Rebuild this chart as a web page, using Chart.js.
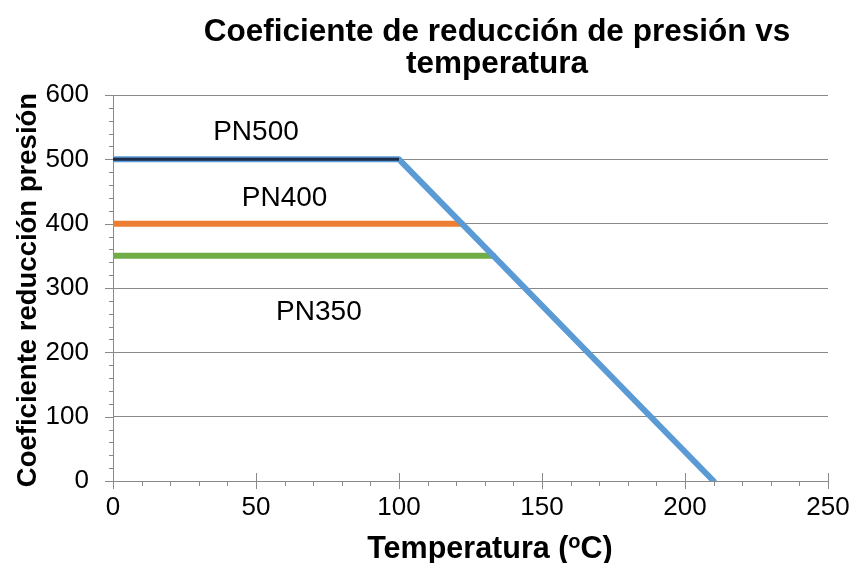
<!DOCTYPE html>
<html><head><meta charset="utf-8">
<script src="https://cdn.jsdelivr.net/npm/chart.js@4/dist/chart.umd.min.js"></script>
<style>html,body{margin:0;padding:0;background:#fff}#wrap{width:852px;height:563px}</style>
</head><body><div id="wrap"><canvas id="c" width="852" height="563"></canvas></div>
<script>
// ---- data ----
const titleLines = ['Coeficiente de reducción de presión vs', 'temperatura'];
const xAxisTitleParts = ['Temperatura (', 'o', 'C)'];
const yAxisTitle = 'Coeficiente reducción presión';
const seriesNames = ['PN500', 'PN400', 'PN350'];
const pn500Temp = [0, 100, 210];
const pn500Coef = [500, 500, 0];
const pn400Temp = [0, 122];
const pn400Coef = [400, 400];
const pn350Temp = [0, 133];
const pn350Coef = [350, 350];
const xTickValues = [0, 50, 100, 150, 200, 250];
const yTickValues = [0, 100, 200, 300, 400, 500, 600];
const xMinorStep = 10;
const yMinorStep = 20;
const labelTemp = [50, 60, 72];
const labelCoef = [542, 440, 263];

const FONT = '"Liberation Sans", Arial, sans-serif';
const GRAY = '#898989';

function pts(xs, ys) { return xs.map((x, i) => ({ x: x, y: ys[i] })); }

const decor = {
  id: 'decor',
  beforeDatasetsDraw(chart) {
    const ctx = chart.ctx, xs = chart.scales.x, ys = chart.scales.y;
    const ax = xs.getPixelForValue(0), ay = ys.getPixelForValue(0);
    ctx.save();
    ctx.strokeStyle = GRAY; ctx.lineWidth = 1;
    ctx.beginPath();
    for (let v = 0; v <= 600; v += yMinorStep) {
      const y = Math.round(ys.getPixelForValue(v)) + 0.5;
      const len = yTickValues.includes(v) ? 8 : 4;
      ctx.moveTo(ax - len, y); ctx.lineTo(ax, y);
    }
    for (let v = 0; v <= 250; v += xMinorStep) {
      const x = Math.round(xs.getPixelForValue(v)) + 0.5;
      if (xTickValues.includes(v)) { ctx.moveTo(x, ay - 8); ctx.lineTo(x, ay + 8); }
      else { ctx.moveTo(x, ay); ctx.lineTo(x, ay + 5); }
    }
    ctx.stroke();
    ctx.restore();
  },
  afterDraw(chart) {
    const ctx = chart.ctx, xs = chart.scales.x, ys = chart.scales.y;
    ctx.save();
    ctx.fillStyle = '#000';
    ctx.textAlign = 'center';
    ctx.textBaseline = 'alphabetic';
    ctx.font = 'bold 31.5px ' + FONT;
    ctx.fillText(titleLines[0], 497, 41);
    ctx.fillText(titleLines[1], 497, 73);
    // series labels
    ctx.font = '28px ' + FONT;
    ctx.textBaseline = 'middle';
    seriesNames.forEach((n, i) => {
      ctx.fillText(n, xs.getPixelForValue(labelTemp[i]), ys.getPixelForValue(labelCoef[i]));
    });
    // x axis title with superscript
    ctx.textBaseline = 'alphabetic';
    ctx.textAlign = 'left';
    const fMain = 'bold 30.5px ' + FONT, fSup = 'bold 20px ' + FONT;
    ctx.font = fMain; const w1 = ctx.measureText(xAxisTitleParts[0]).width;
    const w3 = ctx.measureText(xAxisTitleParts[2]).width;
    ctx.font = fSup; const w2 = ctx.measureText(xAxisTitleParts[1]).width;
    let x0 = 490 - (w1 + w2 + w3) / 2;
    const base = 558;
    ctx.font = fMain; ctx.fillText(xAxisTitleParts[0], x0, base);
    ctx.font = fSup; ctx.fillText(xAxisTitleParts[1], x0 + w1, base - 10);
    ctx.font = fMain; ctx.fillText(xAxisTitleParts[2], x0 + w1 + w2, base);
    // y axis title
    ctx.translate(28, 290);
    ctx.rotate(-Math.PI / 2);
    ctx.textAlign = 'center';
    ctx.textBaseline = 'middle';
    ctx.font = 'bold 27.5px ' + FONT;
    ctx.fillText(yAxisTitle, 0, 0);
    ctx.restore();
  }
};

new Chart(document.getElementById('c'), {
  type: 'scatter',
  data: {
    datasets: [
      { label: 'PN500 dark', data: pts(pn500Temp.slice(0, 2), pn500Coef.slice(0, 2)), showLine: true,
        borderColor: '#1d2c48', borderWidth: 3, pointRadius: 0, order: 0, borderCapStyle: 'butt' },
      { label: seriesNames[0], data: pts(pn500Temp, pn500Coef), showLine: true,
        borderColor: '#5b9bd5', borderWidth: 6, pointRadius: 0, order: 1, borderCapStyle: 'round', borderJoinStyle: 'round' },
      { label: seriesNames[1], data: pts(pn400Temp, pn400Coef), showLine: true,
        borderColor: '#ed7d31', borderWidth: 6, pointRadius: 0, order: 2, borderCapStyle: 'round' },
      { label: seriesNames[2], data: pts(pn350Temp, pn350Coef), showLine: true,
        borderColor: '#70ad47', borderWidth: 6, pointRadius: 0, order: 3, borderCapStyle: 'round' }
    ]
  },
  options: {
    responsive: false, animation: false, devicePixelRatio: 1,
    layout: { padding: { top: 95, right: 24, left: 0, bottom: 0 } },
    plugins: { legend: { display: false }, tooltip: { enabled: false }, title: { display: false } },
    scales: {
      x: {
        type: 'linear', min: 0, max: 250,
        afterBuildTicks(s) { s.ticks = xTickValues.map(v => ({ value: v })); },
        afterFit(s) { s.height = 82; s.paddingLeft = 0; s.paddingRight = 0; },
        grid: { display: true, drawOnChartArea: false, drawTicks: false, color: GRAY },
        border: { display: true, color: GRAY, width: 1 },
        ticks: { color: '#000', font: { family: FONT, size: 26 }, padding: 11, maxRotation: 0 }
      },
      y: {
        type: 'linear', min: 0, max: 600,
        afterBuildTicks(s) { s.ticks = yTickValues.map(v => ({ value: v })); },
        afterFit(s) { s.width = 113; s.paddingTop = 0; s.paddingBottom = 0; },
        grid: { display: true, drawTicks: false, color: GRAY, lineWidth: 1 },
        border: { display: true, color: GRAY, width: 1 },
        ticks: { color: '#000', font: { family: FONT, size: 26 }, padding: 24 }
      }
    }
  },
  plugins: [decor]
});
</script>
</body></html>
